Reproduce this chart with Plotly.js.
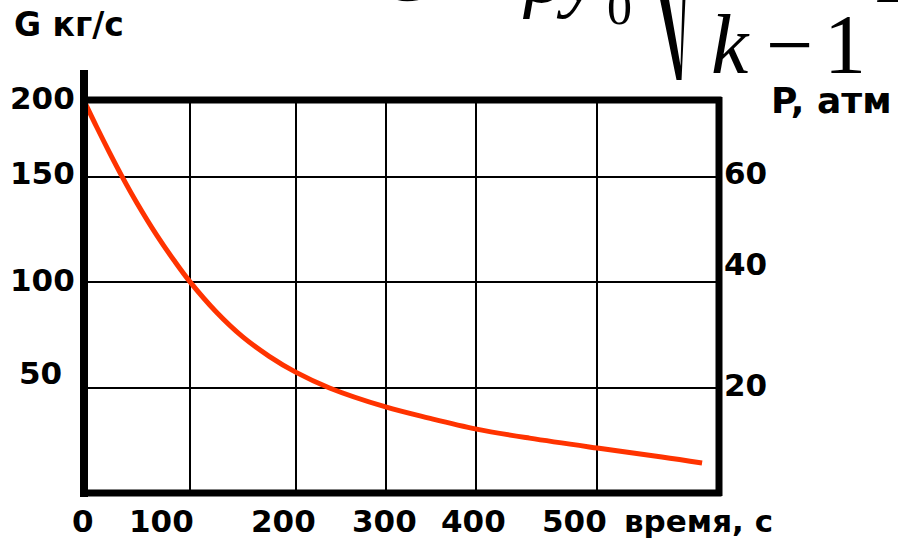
<!DOCTYPE html>
<html>
<head>
<meta charset="utf-8">
<script src="https://cdn.plot.ly/plotly-3.0.1.min.js"></script>
<style>html,body{margin:0;padding:0;background:#fff;}#chart{width:898px;height:538px;}</style>
</head>
<body>
<div id="chart"></div>
<script>
// ---- data ----
const timeS = [0, 12, 24, 36, 50, 69, 85, 100, 125, 150, 175, 200, 232, 285, 326, 371, 421, 485, 546, 584];
const flowG = [186, 173.5, 161.5, 150, 137.5, 122, 110.3, 100.2, 85.8, 74, 64.8, 57.3, 49.8, 40.8, 35.5, 30.3, 26, 21.3, 17.1, 14.2];

const xTickLabels = ['0', '100', '200', '300', '400', '500'];
const gTickLabels = ['200', '150', '100', '50'];
const pTickLabels = ['60', '40', '20'];

const xTitle = 'время, с';
const gTitle = 'G кг/с';
const pTitle = 'P, атм';

// ---- layout (positions as drawn in the picture) ----
const X_MAX = 600, G_MAX = 186.3;
const xGrid = [100, 200, 285.4, 370.8, 484.9];
const gGrid = [50, 100, 150];
const xLabelAt = [-0.9, 73.6, 188.7, 284, 368, 463];
const gLabelAt = [187.2, 151.7, 101, 56.9];
const gLabelShift = [-7, -7, -7, -20];
const pLabelAt = [151.7, 108.5, 51.2];

const bold = {family: 'DejaVu Sans, Verdana, sans-serif', size: 31, color: '#000', weight: 700};
const serif = 'Liberation Serif, Times New Roman, serif';

const ann = [];
xTickLabels.forEach((t, i) => ann.push({
  text: t, xref: 'paper', x: xLabelAt[i] / X_MAX, yref: 'paper', y: 0, yshift: -28,
  xanchor: 'center', yanchor: 'middle', showarrow: false, font: bold
}));
ann.push({text: xTitle, xref: 'paper', x: 508.5 / X_MAX, yref: 'paper', y: 0, yshift: -28,
  xanchor: 'left', yanchor: 'middle', showarrow: false, font: bold});
gTickLabels.forEach((t, i) => ann.push({
  text: t, xref: 'paper', x: 0, xshift: gLabelShift[i], yref: 'paper', y: gLabelAt[i] / G_MAX,
  xanchor: 'right', yanchor: 'middle', showarrow: false, font: bold
}));
pTickLabels.forEach((t, i) => ann.push({
  text: t, xref: 'paper', x: 1, xshift: 3, yref: 'paper', y: pLabelAt[i] / G_MAX,
  xanchor: 'left', yanchor: 'middle', showarrow: false, font: bold
}));
ann.push({text: gTitle, xref: 'paper', x: -0.1133, yref: 'paper', y: 1.192,
  xanchor: 'left', yanchor: 'middle', showarrow: false, font: Object.assign({}, bold, {size: 33})});
ann.push({text: pTitle, xref: 'paper', x: 1.0780, yref: 'paper', y: 0.9975,
  xanchor: 'left', yanchor: 'middle', showarrow: false, font: Object.assign({}, bold, {size: 36})});

// cropped formula fragment at the top
const px = v => (v - 84) / 635.5;
const py = v => (493 - v) / 393;
const f = (text, cx, cy, size, italic) => ann.push({
  text: text, xref: 'paper', x: px(cx), yref: 'paper', y: py(cy),
  xanchor: 'center', yanchor: 'middle', showarrow: false,
  font: {family: serif, size: size, color: '#000', style: italic ? 'italic' : 'normal'}
});
f('G', 410, -27, 84, true);
f('ρy', 561, -25, 80, true);
f('0', 620, 7, 50, false);
f('k', 731, 44, 84, true);
f('−', 790, 44, 84, false);
f('1', 846, 44, 84, false);
f('1', 889, -21, 70, false);

const radical = 'M ' + px(660) + ',' + py(-3) + ' L ' + px(669) + ',' + py(-3) +
  ' L ' + px(681) + ',' + py(66) + ' L ' + px(683) + ',' + py(-3) +
  ' L ' + px(686) + ',' + py(-3) + ' L ' + px(682) + ',' + py(80) +
  ' L ' + px(677) + ',' + py(80) + ' Z';

const shapes = [
  {type: 'line', xref: 'paper', yref: 'paper', x0: 0, x1: 0, y0: py(497), y1: py(70), line: {color: '#000', width: 8}},
  {type: 'line', xref: 'paper', yref: 'paper', x0: 0, x1: px(722), y0: 1, y1: 1, line: {color: '#000', width: 7}},
  {type: 'line', xref: 'paper', yref: 'paper', x0: px(719.5), x1: px(719.5), y0: py(496), y1: py(97), line: {color: '#000', width: 7}},
  {type: 'line', xref: 'paper', yref: 'paper', x0: 0, x1: px(722), y0: 0, y1: 0, line: {color: '#000', width: 7}},
  {type: 'path', xref: 'paper', yref: 'paper', path: radical, fillcolor: '#000', line: {width: 0}}
];

const trace = {
  x: timeS, y: flowG, type: 'scatter', mode: 'lines',
  line: {color: '#FF3300', width: 5, shape: 'spline', smoothing: 1},
  hoverinfo: 'skip'
};

const layout = {
  width: 898, height: 538,
  margin: {l: 84, r: 179, t: 100, b: 45, pad: 0},
  paper_bgcolor: '#fff', plot_bgcolor: '#fff',
  showlegend: false,
  xaxis: {range: [0, X_MAX], tickmode: 'array', tickvals: xGrid, showticklabels: false,
    ticks: '', showgrid: true, gridcolor: '#000', gridwidth: 2, zeroline: false, showline: false, fixedrange: true},
  yaxis: {range: [0, G_MAX], tickmode: 'array', tickvals: gGrid, showticklabels: false,
    ticks: '', showgrid: true, gridcolor: '#000', gridwidth: 2, zeroline: false, showline: false, fixedrange: true},
  annotations: ann,
  shapes: shapes
};

Plotly.newPlot('chart', [trace], layout, {staticPlot: true, displayModeBar: false});
</script>
</body>
</html>
